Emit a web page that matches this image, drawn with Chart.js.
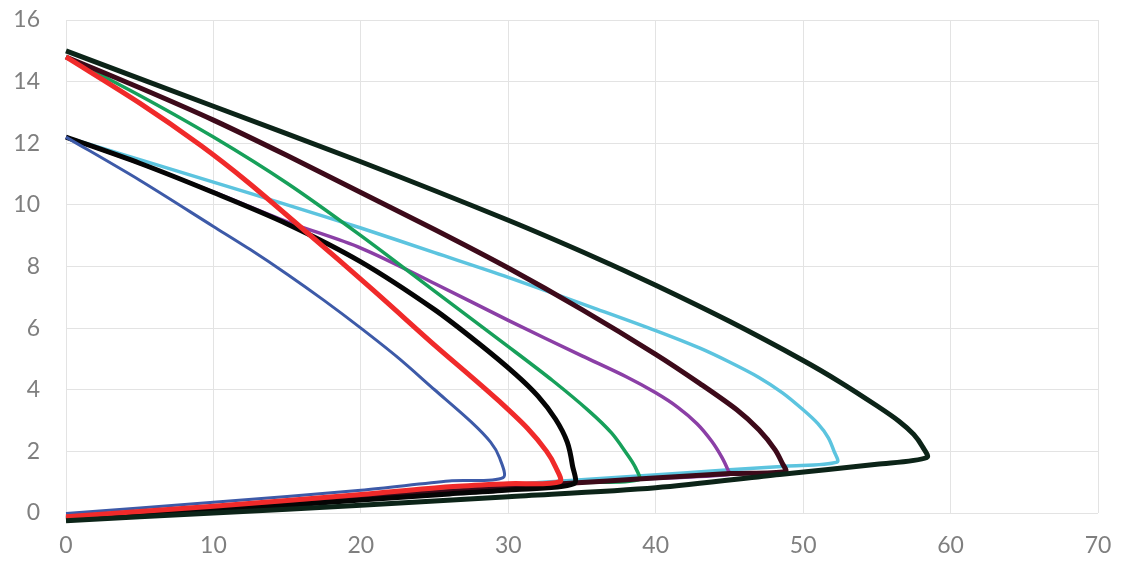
<!DOCTYPE html>
<html>
<head>
<meta charset="utf-8">
<script src="https://cdn.jsdelivr.net/npm/chart.js@4"></script>
<style>
  html, body { margin: 0; padding: 0; background: #fff; }
  #wrap { width: 1132px; height: 567px; }
</style>
</head>
<body>
<div id="wrap"><canvas id="chart" width="1132" height="567"></canvas></div>
<script>
// tick labels
var xTicks = [0, 10, 20, 30, 40, 50, 60, 70];
var yTicks = [0, 2, 4, 6, 8, 10, 12, 14, 16];

// each curve: down the upper branch to the tip, then back along the lower branch
var darkGreen = [[0,15.0],[10,13.2],[20,11.4],[30,9.5],[36,8.27],[40,7.39],[45,6.22],[50,4.95],[52.5,4.25],[55,3.48],[56.5,2.98],[57.5,2.55],[58.1,2.15],[58.4,1.8],
                 [55,1.58],[48.4,1.25],[40,0.82],[30,0.53],[20,0.25],[10,0.0],[0,-0.25]];
var red = [[0,14.8],[5,13.3],[9.1,11.94],[12.3,10.75],[16.3,9.12],[20.8,7.25],[25,5.45],[27.5,4.42],[29.4,3.62],[31.3,2.75],[32.6,2.0],[33.2,1.5],[33.5,1.02],
           [30,0.95],[26,0.85],[20,0.6],[10,0.22],[0,-0.12]];
var blue = [[0,12.2],[5,10.8],[10,9.3],[12.5,8.55],[15,7.75],[17.5,6.9],[20,6.0],[22.5,5.05],[25,4.0],[27.5,2.95],[28.8,2.3],[29.4,1.8],[29.65,1.15],
            [26,1.04],[20,0.74],[10,0.35],[0,-0.02]];
var black = [[0,12.2],[5,11.35],[10,10.4],[15,9.38],[20,8.15],[25,6.6],[28,5.5],[30.5,4.5],[32,3.8],[33.2,3.05],[34,2.3],[34.35,1.55],[34.45,0.95],
             [30,0.75],[26,0.62],[20,0.42],[10,0.08],[0,-0.22]];
var maroon = [[0,14.8],[5,13.8],[10,12.75],[15,11.6],[20,10.4],[25,9.2],[30,7.95],[35,6.6],[40,5.15],[43,4.2],[45.5,3.35],[47,2.7],[48.1,2.05],[48.6,1.6],[48.8,1.35],
              [45,1.28],[38.8,1.1],[34.7,0.98],[26,0.7],[20,0.5],[10,0.15],[0,-0.17]];
var green = [[0,14.8],[5,13.55],[10,12.2],[15,10.7],[20,9.0],[25,7.2],[30,5.4],[33,4.3],[35.5,3.3],[37,2.6],[38,1.95],[38.6,1.5],[38.85,1.08],
             [34.7,0.99],[26,0.72],[20,0.5],[10,0.16],[0,-0.15]];
var purple = [[0,12.2],[5,11.35],[10,10.42],[15,9.45],[20,8.6],[25,7.45],[30,6.25],[35,5.1],[38,4.42],[40,3.9],[41.5,3.43],[42.8,2.9],[43.8,2.33],[44.5,1.8],[44.9,1.4],[45,1.25],
              [38.8,1.1],[34.7,0.98],[26,0.7],[20,0.5],[10,0.15],[0,-0.17]];
var cyan = [[0,12.2],[5,11.47],[10,10.74],[15,10.0],[20,9.25],[25,8.45],[30,7.65],[36,6.62],[40,5.92],[43,5.35],[45,4.9],[47,4.4],[48.6,3.9],[50,3.35],[51,2.9],[51.7,2.45],[52.1,2.0],[52.3,1.65],
            [48.8,1.52],[45,1.4],[38.8,1.2],[34.7,1.07],[30,0.92],[26,0.8],[20,0.57],[10,0.2],[0,-0.12]];

function pts(a) {
    var out = [];
    for (var i = 0; i < a.length; i++) out.push({x: a[i][0], y: a[i][1]});
    return out;
}

function line(values, color, width) {
    return {
        data: pts(values),
        borderColor: color,
        borderWidth: width,
        showLine: true,
        pointRadius: 0,
        tension: 0.3,
        clip: false,
        fill: false
    };
}

var gray = "#7f7f7f";
var gridColor = "#e3e3e3";
var tickFont = { family: "Lato, 'Noto Sans', sans-serif", size: 23 };

var ctx = document.getElementById("chart").getContext("2d");
new Chart(ctx, {
    type: "scatter",
    data: {
        // first dataset is drawn on top
        datasets: [
            line(darkGreen, "#0c2418", 5),
            line(red, "#f02a2a", 5),
            line(blue, "#3d5aa8", 3),
            line(black, "#050505", 5),
            line(maroon, "#3d0a1a", 5),
            line(green, "#17a05a", 3.5),
            line(purple, "#8b3fa6", 3.5),
            line(cyan, "#5cc4df", 3.5)
        ]
    },
    options: {
        responsive: false,
        animation: false,
        events: [],
        layout: { padding: { top: 20, right: 34, bottom: 0, left: 0 } },
        elements: { line: { capBezierPoints: false } },
        plugins: { legend: { display: false }, tooltip: { enabled: false } },
        scales: {
            x: {
                type: "linear",
                min: 0, max: 70,
                afterBuildTicks: function(axis) {
                    axis.ticks = xTicks.map(function(v) { return {value: v}; });
                },
                afterFit: function(axis) {
                    axis.height = 54;
                    axis.paddingLeft = 0; axis.paddingRight = 0;
                },
                grid: { color: gridColor, lineWidth: 1, drawTicks: false },
                border: { display: false },
                ticks: { color: gray, padding: 19, maxRotation: 0, font: tickFont }
            },
            y: {
                type: "linear",
                min: 0, max: 16,
                afterBuildTicks: function(axis) {
                    axis.ticks = yTicks.map(function(v) { return {value: v}; });
                },
                afterFit: function(axis) {
                    axis.width = 66;
                    axis.paddingTop = 0; axis.paddingBottom = 0;
                },
                grid: { color: gridColor, lineWidth: 1, drawTicks: false },
                border: { display: false },
                ticks: { color: gray, padding: 26, font: tickFont }
            }
        }
    }
});
</script>
</body>
</html>
